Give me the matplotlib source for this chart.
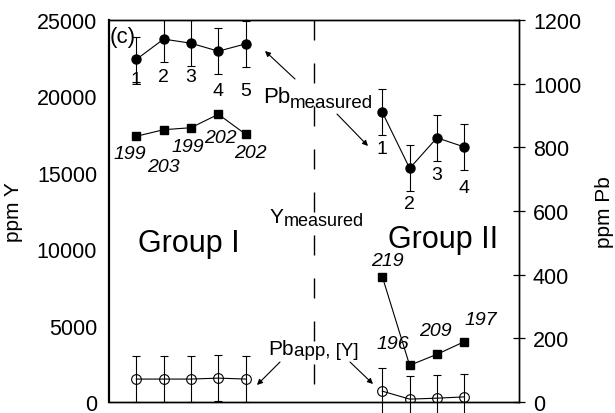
import matplotlib
matplotlib.use("Agg")
import matplotlib.pyplot as plt

plt.rcParams['font.family'] = ['Liberation Sans', 'DejaVu Sans']

# Posições no eixo x (grupo I e grupo II)
x_g1 = [1, 2, 3, 4, 5]
x_g2 = [10, 11, 12, 13]

# Pb medido (ppm Pb) e erro
pb_g1 = [1076, 1140, 1127, 1102, 1125]
pb_g2 = [910, 734, 830, 801]
pb_err = 72

# Y medido (ppm Y)
y_g1 = [17390, 17820, 17950, 18830, 17520]
y_g2 = [8200, 2400, 3120, 3950]

# Pb aparente (ppm Pb)
pbapp_g1 = [72, 72, 72, 75, 72]
pbapp_g2 = [34, 9, 12, 16]
pbapp_err = 72

# Rótulos
num_g1 = ["1", "2", "3", "4", "5"]
num_g2 = ["1", "2", "3", "4"]
idade_g1 = ["199", "203", "199", "202", "202"]
idade_g2 = ["219", "196", "209", "197"]

# posição dos rótulos (ppm Pb / ppm Y)
num_g1_pos = [1012, 1024, 1024, 980, 980]
num_g2_pos = [795, 622, 716, 675]
idade_g1_x = [0.77, 2.01, 2.89, 4.06, 5.16]
idade_g1_pos = [16230, 15380, 16750, 17280, 16360]
idade_g2_x = [10.17, 10.39, 11.96, 13.6]
idade_g2_pos = [9230, 3800, 4650, 5370]

fig = plt.figure(figsize=(6.15, 4.14), dpi=100)
ax = fig.add_axes([0.1772, 0.0266, 0.6667, 0.9227])
ax2 = ax.twinx()

ax.set_xlim(0, 15)
ax.set_ylim(0, 25000)
ax2.set_ylim(0, 1200)
ax.set_xticks([])

ax.set_yticks([0, 5000, 10000, 15000, 20000, 25000])
ax2.set_yticks([0, 200, 400, 600, 800, 1000, 1200])
ax.tick_params(axis='y', length=0, pad=8.5, labelsize=15.5)
ax2.tick_params(axis='y', direction='inout', length=8.6, width=0.9, pad=5.7, labelsize=15.5)
ax.set_ylabel("ppm Y", fontsize=15, labelpad=10)
ax2.set_ylabel("ppm Pb", fontsize=15, labelpad=10)

for s in ["top", "bottom", "right"]:
    ax.spines[s].set_linewidth(1.0)
    ax2.spines[s].set_linewidth(1.0)
ax2.spines["left"].set_visible(False)
ax.spines["left"].set_linewidth(1.6)

# linha tracejada separando os grupos
ax.plot([7.5, 7.5], [25000, 0], color="black", lw=1.0, dashes=(20 / 1.389, 23 / 1.389))

# Y medido
for xs, ys in [(x_g1, y_g1), (x_g2, y_g2)]:
    ax.plot(xs, ys, color="black", lw=0.8, marker="s", ms=6, mfc="black", mec="black")

# Pb medido
for xs, ys in [(x_g1, pb_g1), (x_g2, pb_g2)]:
    ax2.errorbar(xs, ys, yerr=pb_err, color="black", lw=0.8, elinewidth=0.8, capsize=3,
                 capthick=0.8, marker="o", ms=6.5, mfc="black", mec="black")

# Pb aparente
for xs, ys in [(x_g1, pbapp_g1), (x_g2, pbapp_g2)]:
    eb = ax2.errorbar(xs, ys, yerr=pbapp_err, color="black", lw=0.8, elinewidth=0.8, capsize=3,
                      capthick=0.8, marker="o", ms=7, mfc="none", mec="black", mew=0.8)
    for a in eb.lines[1] + eb.lines[2]:
        a.set_clip_on(False)

# números
for xi, t, p in zip(x_g1, num_g1, num_g1_pos):
    ax2.text(xi, p, t, fontsize=14, ha="center", va="center")
for xi, t, p in zip(x_g2, num_g2, num_g2_pos):
    ax2.text(xi, p, t, fontsize=14, ha="center", va="center")
for xi, t, p in zip(idade_g1_x, idade_g1, idade_g1_pos):
    ax.text(xi, p, t, fontsize=14, style="italic", ha="center", va="center")
for xi, t, p in zip(idade_g2_x, idade_g2, idade_g2_pos):
    ax.text(xi, p, t, fontsize=14, style="italic", ha="center", va="center")

ax2.text(0.0024, 0.958, "(c)", transform=ax2.transAxes, fontsize=16, va="center", ha="left")
ax2.text(0.0707, 0.395, "Group I", transform=ax2.transAxes, fontsize=22, va="baseline")
ax2.text(0.680, 0.406, "Group II", transform=ax2.transAxes, fontsize=22, va="baseline")


def label_sub(x, y, base, sub, fs, fs_sub, dy):
    t = ax2.text(x, y, base, transform=ax2.transAxes, fontsize=fs, va="baseline")
    ax2.annotate(sub, xy=(1, 0), xycoords=t, xytext=(0, dy), textcoords="offset points",
                 fontsize=fs_sub, va="bottom", ha="left")


label_sub(0.3756, 0.785, "Pb", "measured", 16, 13.5, -3)
label_sub(0.3927, 0.471, "Y", "measured", 15, 13, -2)
label_sub(0.388, 0.1257, "Pb", "app, [Y]", 15, 13.5, -1)

setas = [
    ((0.3805, 0.9188), (0.4537, 0.8455)),
    ((0.6317, 0.6702), (0.5561, 0.7539)),
    ((0.3610, 0.0445), (0.4171, 0.1047)),
    ((0.6439, 0.0471), (0.5878, 0.1047)),
]
for head, tail in setas:
    ax2.annotate("", xy=head, xytext=tail, xycoords="axes fraction",
                 arrowprops=dict(arrowstyle="-|>", lw=0.8, color="black",
                                 mutation_scale=8, shrinkA=0, shrinkB=0))

fig.savefig("out.png", dpi=100)
